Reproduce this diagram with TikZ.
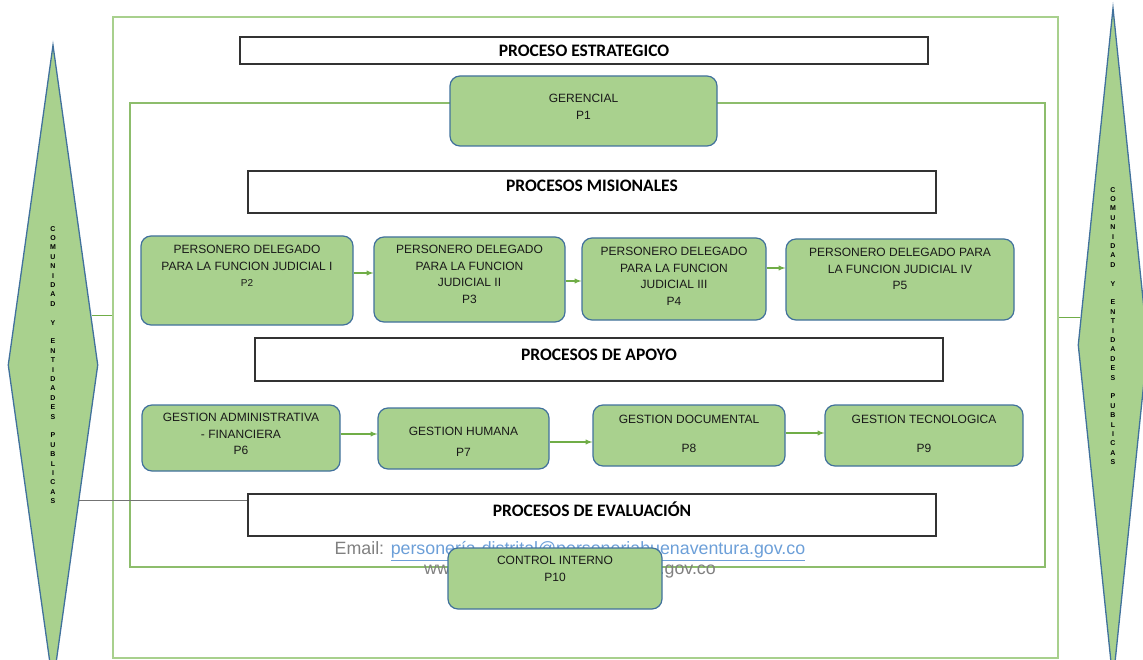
\documentclass[tikz,border=0pt]{standalone}
\usepackage{fontspec}
\setmainfont{Liberation Sans}
\newfontfamily\hdfont{Carlito}
\usepackage{xcolor}
\usetikzlibrary{shapes.geometric, arrows, positioning}
\definecolor{leaf}{HTML}{A9D18E}
\definecolor{edge}{HTML}{41719C}
\definecolor{vine}{HTML}{70AD47}
\definecolor{pale}{HTML}{A8D08D}
\definecolor{link}{HTML}{6C9FD8}
\newcommand{\comtext}{C\\O\\M\\U\\N\\I\\D\\A\\D\\[9.4pt]Y\\[9.4pt]E\\N\\T\\I\\D\\A\\D\\E\\S\\[9.4pt]P\\U\\B\\L\\I\\C\\A\\S}

\begin{document}
\begin{tikzpicture}[x=1pt, y=-1pt, node distance=10pt, proc/.style={rectangle, draw=edge, fill=leaf, rounded corners=10pt, line width=1.2pt, inner sep=0pt}, txt/.style={align=center, inner sep=0pt, text=black!90, font=\fontsize{12}{16.5}\selectfont}, head/.style={rectangle, draw=black!80, fill=white, line width=1.4pt, minimum width=688pt, inner sep=0pt, font=\hdfont\bfseries\fontsize{17.5}{20}\selectfont}, side/.style={diamond, draw=edge, fill=leaf, line width=1.3pt, inner sep=0pt, aspect=0.14}, vert/.style={align=center, inner sep=0pt, font=\bfseries\fontsize{7}{9.4}\selectfont}, arrow/.style={->, >=latex, draw=vine, line width=1.3pt}]
\clip (0,0) rectangle (1143,660);
\node[draw=pale, line width=2pt, minimum width=945pt, minimum height=641pt, inner sep=0pt] (outer) at (585.5,337.5) {};
\node[draw=vine!80, line width=1.5pt, minimum width=915pt, minimum height=464pt, inner sep=0pt] (inner) at (587.5,335) {};
\node[side, minimum width=90pt, minimum height=640pt] (lcom) at (53,365) {};
\node[side, minimum width=70pt, minimum height=674pt] (rcom) at (1113,345) {};
\node[vert] (ltxt) at (lcom) {\comtext};
\node[vert, yshift=19pt] (rtxt) at (rcom) {\comtext};
\node[head, minimum height=27pt] (strat) at (584,50.5) {PROCESO ESTRATEGICO};
\node[head, minimum height=42pt, text depth=12pt] (mis) at (592,192) {PROCESOS MISIONALES};
\node[head, minimum height=43pt, text depth=9pt] (apo) at (599,359.5) {PROCESOS DE APOYO};
\node[head, minimum height=42pt, text depth=12pt] (eva) at (592,515) {PROCESOS DE EVALUACIÓN};
\draw[vine, line width=1.2pt] (lcom.52) -- (lcom.52 -| outer.west);
\draw[black!55, line width=1.2pt] (lcom.-79) -- (lcom.-79 -| eva.west);
\draw[vine, line width=1.2pt] (rcom.140) -- (rcom.140 -| outer.east);
\node[proc, minimum width=267pt, minimum height=70pt] (g) at (583.5,111) {};
\node[txt, below=19pt of g.north] (tg) {GERENCIAL\\P1};
\node[proc, minimum width=212pt, minimum height=89pt] (p2) at (247,280.5) {};
\node[txt, below=10pt of p2.north] (t2) {PERSONERO DELEGADO\\PARA LA FUNCION JUDICIAL I\\{\fontsize{10}{14}\selectfont P2}};
\node[proc, minimum width=191pt, minimum height=85pt] (p3) at (469.5,279.5) {};
\node[txt, below=9pt of p3.north] (t3) {PERSONERO DELEGADO\\PARA LA FUNCION\\JUDICIAL II\\P3};
\node[proc, minimum width=184pt, minimum height=82pt] (p4) at (674,279) {};
\node[txt, below=10pt of p4.north] (t4) {PERSONERO DELEGADO\\PARA LA FUNCION\\JUDICIAL III\\P4};
\node[proc, minimum width=228pt, minimum height=81pt] (p5) at (900,279.5) {};
\node[txt, below=10pt of p5.north] (t5) {PERSONERO DELEGADO PARA\\LA FUNCION JUDICIAL IV\\P5};
\node[proc, minimum width=198pt, minimum height=66pt] (p6) at (241,438) {};
\node[txt, below=9pt of p6.north] (t6) {GESTION ADMINISTRATIVA\\- FINANCIERA\\P6};
\node[proc, minimum width=171pt, minimum height=61pt] (p7) at (463.5,438.5) {};
\node[txt, below=20pt of p7.north] (t7) {GESTION HUMANA\\[4.5pt]P7};
\node[proc, minimum width=192pt, minimum height=61pt] (p8) at (689,435.5) {};
\node[txt, below=11pt of p8.north] (t8) {GESTION DOCUMENTAL\\[12.5pt]P8};
\node[proc, minimum width=198pt, minimum height=61pt] (p9) at (924,435.5) {};
\node[txt, below=11pt of p9.north] (t9) {GESTION TECNOLOGICA\\[12.5pt]P9};
\draw[arrow] ([yshift=7.5pt]p2.east) -- ([yshift=7.5pt]p2.east -| p3.west);
\draw[arrow] ([yshift=-1.5pt]p3.east) -- ([yshift=-1.5pt]p3.east -| p4.west);
\draw[arrow] ([yshift=11pt]p4.east) -- ([yshift=11pt]p4.east -| p5.west);
\draw[arrow] ([yshift=4pt]p6.east) -- ([yshift=4pt]p6.east -| p7.west);
\draw[arrow] ([yshift=-3.5pt]p7.east) -- ([yshift=-3.5pt]p7.east -| p8.west);
\draw[arrow] ([yshift=2.5pt]p8.east) -- ([yshift=2.5pt]p8.east -| p9.west);
\node[align=center, inner sep=0pt, text=black!50, font=\fontsize{17.8}{20}\selectfont] (mail) at (570,560) {Email: \textcolor{link}{\underline{personería-distrital@personeriabuenaventura.gov.co}}\\www.personeriabuenaventura.gov.co};
\node[proc, minimum width=214pt, minimum height=61pt] (p10) at (555,578.5) {};
\node[txt, below=9pt of p10.north] (t10) {CONTROL INTERNO\\P10};
\end{tikzpicture}
\end{document}
